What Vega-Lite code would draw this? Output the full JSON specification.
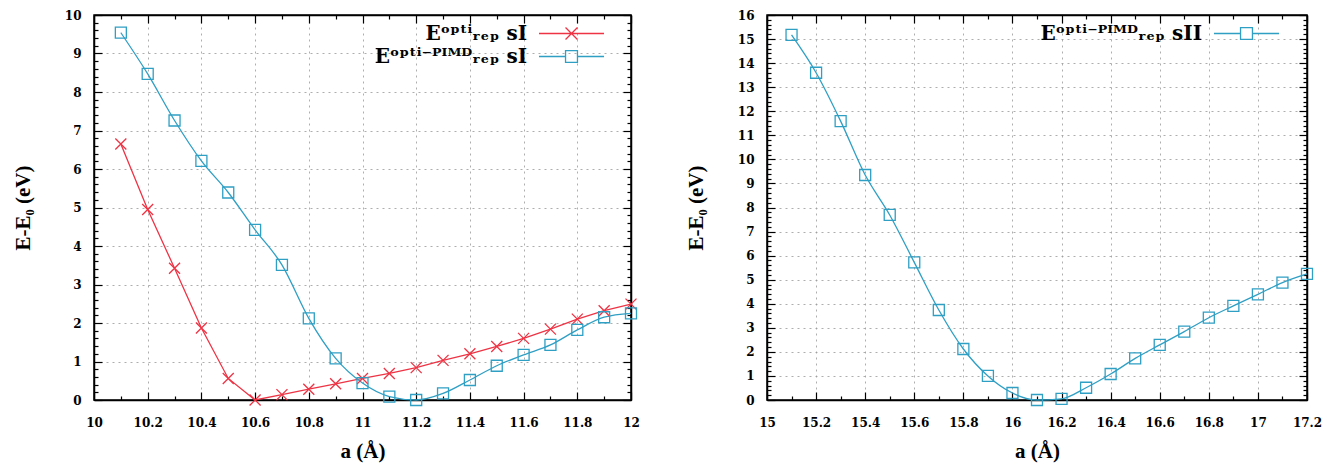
{
  "$schema": "https://vega.github.io/schema/vega-lite/v6.json",
  "background": "white",
  "padding": {"left": 11, "top": 8, "right": 5, "bottom": 5},
  "config": {
    "view": {"stroke": "black", "strokeWidth": 1.5},
    "axis": {
      "labelFont": "DejaVu Serif", "labelFontWeight": "bold", "labelFontSize": 12, "labelColor": "black",
      "titleFont": "Liberation Serif", "titleFontWeight": "bold", "titleFontSize": 21, "titleColor": "black",
      "domainColor": "black", "domainWidth": 1.5, "tickColor": "black", "tickWidth": 1.2,
      "gridColor": "#999999", "gridDash": [2, 4], "gridWidth": 0.8,
      "labelOverlap": false, "labelFlush": false, "format": "~g"
    }
  },
  "datasets": {
    "sI": [
      {"series": "opti", "a": 10.1, "E": 6.65}, {"series": "opti", "a": 10.2, "E": 4.95}, {"series": "opti", "a": 10.3, "E": 3.42},
      {"series": "opti", "a": 10.4, "E": 1.87}, {"series": "opti", "a": 10.5, "E": 0.56}, {"series": "opti", "a": 10.6, "E": 0.0},
      {"series": "opti", "a": 10.7, "E": 0.14}, {"series": "opti", "a": 10.8, "E": 0.28}, {"series": "opti", "a": 10.9, "E": 0.42},
      {"series": "opti", "a": 11.0, "E": 0.56}, {"series": "opti", "a": 11.1, "E": 0.69}, {"series": "opti", "a": 11.2, "E": 0.84},
      {"series": "opti", "a": 11.3, "E": 1.03}, {"series": "opti", "a": 11.4, "E": 1.2}, {"series": "opti", "a": 11.5, "E": 1.39},
      {"series": "opti", "a": 11.6, "E": 1.6}, {"series": "opti", "a": 11.7, "E": 1.84}, {"series": "opti", "a": 11.8, "E": 2.1},
      {"series": "opti", "a": 11.9, "E": 2.32}, {"series": "opti", "a": 12.0, "E": 2.49},
      {"series": "pimd", "a": 10.1, "E": 9.54}, {"series": "pimd", "a": 10.2, "E": 8.47}, {"series": "pimd", "a": 10.3, "E": 7.26},
      {"series": "pimd", "a": 10.4, "E": 6.21}, {"series": "pimd", "a": 10.5, "E": 5.39}, {"series": "pimd", "a": 10.6, "E": 4.42},
      {"series": "pimd", "a": 10.7, "E": 3.51}, {"series": "pimd", "a": 10.8, "E": 2.12}, {"series": "pimd", "a": 10.9, "E": 1.08},
      {"series": "pimd", "a": 11.0, "E": 0.44}, {"series": "pimd", "a": 11.1, "E": 0.09}, {"series": "pimd", "a": 11.2, "E": 0.0},
      {"series": "pimd", "a": 11.3, "E": 0.17}, {"series": "pimd", "a": 11.4, "E": 0.52}, {"series": "pimd", "a": 11.5, "E": 0.89},
      {"series": "pimd", "a": 11.6, "E": 1.17}, {"series": "pimd", "a": 11.7, "E": 1.43}, {"series": "pimd", "a": 11.8, "E": 1.82},
      {"series": "pimd", "a": 11.9, "E": 2.15}, {"series": "pimd", "a": 12.0, "E": 2.25}
    ],
    "sII": [
      {"series": "pimdII", "a": 15.1, "E": 15.17}, {"series": "pimdII", "a": 15.2, "E": 13.6}, {"series": "pimdII", "a": 15.3, "E": 11.59},
      {"series": "pimdII", "a": 15.4, "E": 9.35}, {"series": "pimdII", "a": 15.5, "E": 7.69}, {"series": "pimdII", "a": 15.6, "E": 5.72},
      {"series": "pimdII", "a": 15.7, "E": 3.74}, {"series": "pimdII", "a": 15.8, "E": 2.12}, {"series": "pimdII", "a": 15.9, "E": 1.0},
      {"series": "pimdII", "a": 16.0, "E": 0.29}, {"series": "pimdII", "a": 16.1, "E": 0.0}, {"series": "pimdII", "a": 16.2, "E": 0.05},
      {"series": "pimdII", "a": 16.3, "E": 0.51}, {"series": "pimdII", "a": 16.4, "E": 1.08}, {"series": "pimdII", "a": 16.5, "E": 1.73},
      {"series": "pimdII", "a": 16.6, "E": 2.29}, {"series": "pimdII", "a": 16.7, "E": 2.84}, {"series": "pimdII", "a": 16.8, "E": 3.42},
      {"series": "pimdII", "a": 16.9, "E": 3.91}, {"series": "pimdII", "a": 17.0, "E": 4.39}, {"series": "pimdII", "a": 17.1, "E": 4.88},
      {"series": "pimdII", "a": 17.2, "E": 5.24}
    ]
  },
  "spacing": 43,
  "resolve": {"scale": {"x": "independent", "y": "independent", "color": "independent"}, "legend": {"color": "independent"}},
  "hconcat": [
    {
      "width": 537, "height": 385,
      "data": {"name": "sI"},
      "resolve": {"axis": {"x": "independent", "y": "independent"}},
      "layer": [
        {
          "transform": [{"filter": "datum.series === 'opti'"}],
          "mark": {"type": "line", "strokeWidth": 1.3},
          "encoding": {
            "x": {"field": "a", "type": "quantitative", "scale": {"domain": [10, 12], "nice": false, "zero": false},
              "axis": {"orient": "bottom", "title": "a (Å)", "titlePadding": 8, "labelPadding": 25,
                "values": [10, 10.1, 10.2, 10.3, 10.4, 10.5, 10.6, 10.7, 10.8, 10.9, 11, 11.1, 11.2, 11.3, 11.4, 11.5, 11.6, 11.7, 11.8, 11.9, 12],
                "labelExpr": "abs(datum.value*5-round(datum.value*5))<0.001 ? datum.label : ''",
                "tickSize": {"condition": {"test": "abs(datum.value*5-round(datum.value*5))<0.001", "value": -8}, "value": -4},
                "grid": true,
                "gridOpacity": {"condition": {"test": "abs(datum.value*5-round(datum.value*5))<0.001 && datum.value > 10.01 && datum.value < 11.99", "value": 1}, "value": 0}}},
            "y": {"field": "E", "type": "quantitative", "scale": {"domain": [0, 10], "nice": false},
              "axis": {"orient": "left", "title": "E-E₀ (eV)", "titlePadding": 31, "labelPadding": 21,
                "values": [0, 0.2, 0.4, 0.6, 0.8, 1, 1.2, 1.4, 1.6, 1.8, 2, 2.2, 2.4, 2.6, 2.8, 3, 3.2, 3.4, 3.6, 3.8, 4, 4.2, 4.4, 4.6, 4.8, 5, 5.2, 5.4, 5.6, 5.8, 6, 6.2, 6.4, 6.6, 6.8, 7, 7.2, 7.4, 7.6, 7.8, 8, 8.2, 8.4, 8.6, 8.8, 9, 9.2, 9.4, 9.6, 9.8, 10],
                "labelExpr": "abs(datum.value-round(datum.value))<0.001 ? datum.label : ''",
                "tickSize": {"condition": {"test": "abs(datum.value-round(datum.value))<0.001", "value": -8}, "value": -4},
                "grid": true,
                "gridOpacity": {"condition": {"test": "abs(datum.value-round(datum.value))<0.001 && datum.value > 0.01 && datum.value < 9.99", "value": 1}, "value": 0}}},
            "color": {"field": "series", "type": "nominal",
              "scale": {"domain": ["opti", "pimd"], "range": ["#ee3344", "#2f9fc4"]},
              "legend": {
                "orient": "none", "legendX": 466, "legendY": 7, "title": null, "padding": 0,
                "labelExpr": "datum.value === 'opti' ? 'Eᵒᵖᵗⁱᵣₑₚ sI' : 'Eᵒᵖᵗⁱ⁻ᴾᴵᴹᴰᵣₑₚ sI'",
                "labelFont": "DejaVu Serif", "labelFontWeight": "bold", "labelFontSize": 20, "labelColor": "black",
                "labelAlign": "right", "labelOffset": -56, "labelLimit": 0,
                "symbolSize": 470, "symbolStrokeWidth": 1.3, "symbolFillColor": "transparent", "rowPadding": 1,
                "encode": {"symbols": {"update": {
                  "shape": {"signal": "datum.value === 'opti' ? 'M-3,0H3M-0.55,-0.55L0.55,0.55M-0.55,0.55L0.55,-0.55' : 'M-3,0H-0.55M0.55,0H3M-0.55,-0.55H0.55V0.55H-0.55Z'"},
                  "fill": {"value": "transparent"}}}}
              }}
          }
        },
        {
          "transform": [{"filter": "datum.series === 'pimd'"}],
          "mark": {"type": "line", "strokeWidth": 1.3, "interpolate": "monotone"},
          "encoding": {
            "x": {"field": "a", "type": "quantitative", "axis": null},
            "y": {"field": "E", "type": "quantitative", "axis": null},
            "color": {"field": "series", "type": "nominal", "legend": null}
          }
        },
        {
          "transform": [{"filter": "datum.series === 'opti'"}],
          "mark": {"type": "point", "filled": false, "strokeWidth": 1.3, "size": 121, "opacity": 1, "shape": "M-1,-1L1,1M-1,1L1,-1"},
          "encoding": {
            "x": {"field": "a", "type": "quantitative",
              "axis": {"orient": "top", "title": null, "labels": false, "grid": false,
                "values": [10, 10.1, 10.2, 10.3, 10.4, 10.5, 10.6, 10.7, 10.8, 10.9, 11, 11.1, 11.2, 11.3, 11.4, 11.5, 11.6, 11.7, 11.8, 11.9, 12],
                "tickSize": {"condition": {"test": "abs(datum.value*5-round(datum.value*5))<0.001", "value": -8}, "value": -4}}},
            "y": {"field": "E", "type": "quantitative",
              "axis": {"orient": "right", "title": null, "labels": false, "grid": false,
                "values": [0, 0.2, 0.4, 0.6, 0.8, 1, 1.2, 1.4, 1.6, 1.8, 2, 2.2, 2.4, 2.6, 2.8, 3, 3.2, 3.4, 3.6, 3.8, 4, 4.2, 4.4, 4.6, 4.8, 5, 5.2, 5.4, 5.6, 5.8, 6, 6.2, 6.4, 6.6, 6.8, 7, 7.2, 7.4, 7.6, 7.8, 8, 8.2, 8.4, 8.6, 8.8, 9, 9.2, 9.4, 9.6, 9.8, 10],
                "tickSize": {"condition": {"test": "abs(datum.value-round(datum.value))<0.001", "value": -8}, "value": -4}}},
            "color": {"field": "series", "type": "nominal", "legend": null}
          }
        },
        {
          "transform": [{"filter": "datum.series === 'pimd'"}],
          "mark": {"type": "point", "filled": false, "strokeWidth": 1.3, "size": 121, "opacity": 1, "shape": "square"},
          "encoding": {
            "x": {"field": "a", "type": "quantitative", "axis": null},
            "y": {"field": "E", "type": "quantitative", "axis": null},
            "color": {"field": "series", "type": "nominal", "legend": null}
          }
        }
      ]
    },
    {
      "width": 540, "height": 385,
      "data": {"name": "sII"},
      "resolve": {"axis": {"x": "independent", "y": "independent"}},
      "layer": [
        {
          "mark": {"type": "line", "strokeWidth": 1.3, "interpolate": "monotone"},
          "encoding": {
            "x": {"field": "a", "type": "quantitative", "scale": {"domain": [15, 17.2], "nice": false, "zero": false},
              "axis": {"orient": "bottom", "title": "a (Å)", "titlePadding": 8, "labelPadding": 25,
                "values": [15, 15.1, 15.2, 15.3, 15.4, 15.5, 15.6, 15.7, 15.8, 15.9, 16, 16.1, 16.2, 16.3, 16.4, 16.5, 16.6, 16.7, 16.8, 16.9, 17, 17.1, 17.2],
                "labelExpr": "abs(datum.value*5-round(datum.value*5))<0.001 ? datum.label : ''",
                "tickSize": {"condition": {"test": "abs(datum.value*5-round(datum.value*5))<0.001", "value": -8}, "value": -4},
                "grid": true,
                "gridOpacity": {"condition": {"test": "abs(datum.value*5-round(datum.value*5))<0.001 && datum.value > 15.01 && datum.value < 17.19", "value": 1}, "value": 0}}},
            "y": {"field": "E", "type": "quantitative", "scale": {"domain": [0, 16], "nice": false},
              "axis": {"orient": "left", "title": "E-E₀ (eV)", "titlePadding": 31, "labelPadding": 21,
                "values": [0, 0.2, 0.4, 0.6, 0.8, 1, 1.2, 1.4, 1.6, 1.8, 2, 2.2, 2.4, 2.6, 2.8, 3, 3.2, 3.4, 3.6, 3.8, 4, 4.2, 4.4, 4.6, 4.8, 5, 5.2, 5.4, 5.6, 5.8, 6, 6.2, 6.4, 6.6, 6.8, 7, 7.2, 7.4, 7.6, 7.8, 8, 8.2, 8.4, 8.6, 8.8, 9, 9.2, 9.4, 9.6, 9.8, 10, 10.2, 10.4, 10.6, 10.8, 11, 11.2, 11.4, 11.6, 11.8, 12, 12.2, 12.4, 12.6, 12.8, 13, 13.2, 13.4, 13.6, 13.8, 14, 14.2, 14.4, 14.6, 14.8, 15, 15.2, 15.4, 15.6, 15.8, 16],
                "labelExpr": "abs(datum.value-round(datum.value))<0.001 ? datum.label : ''",
                "tickSize": {"condition": {"test": "abs(datum.value-round(datum.value))<0.001", "value": -8}, "value": -4},
                "grid": true,
                "gridOpacity": {"condition": {"test": "abs(datum.value-round(datum.value))<0.001 && datum.value > 0.01 && datum.value < 15.99", "value": 1}, "value": 0}}},
            "color": {"field": "series", "type": "nominal",
              "scale": {"domain": ["pimdII"], "range": ["#2f9fc4"]},
              "legend": {
                "orient": "none", "legendX": 468, "legendY": 7, "title": null, "padding": 0,
                "labelExpr": "'Eᵒᵖᵗⁱ⁻ᴾᴵᴹᴰᵣₑₚ sII'",
                "labelFont": "DejaVu Serif", "labelFontWeight": "bold", "labelFontSize": 20, "labelColor": "black",
                "labelAlign": "right", "labelOffset": -56, "labelLimit": 0,
                "symbolSize": 470, "symbolStrokeWidth": 1.3, "symbolFillColor": "transparent",
                "encode": {"symbols": {"update": {
                  "shape": {"value": "M-3,0H-0.55M0.55,0H3M-0.55,-0.55H0.55V0.55H-0.55Z"},
                  "fill": {"value": "transparent"}}}}
              }}
          }
        },
        {
          "mark": {"type": "point", "filled": false, "strokeWidth": 1.3, "size": 121, "opacity": 1, "shape": "square"},
          "encoding": {
            "x": {"field": "a", "type": "quantitative",
              "axis": {"orient": "top", "title": null, "labels": false, "grid": false,
                "values": [15, 15.1, 15.2, 15.3, 15.4, 15.5, 15.6, 15.7, 15.8, 15.9, 16, 16.1, 16.2, 16.3, 16.4, 16.5, 16.6, 16.7, 16.8, 16.9, 17, 17.1, 17.2],
                "tickSize": {"condition": {"test": "abs(datum.value*5-round(datum.value*5))<0.001", "value": -8}, "value": -4}}},
            "y": {"field": "E", "type": "quantitative",
              "axis": {"orient": "right", "title": null, "labels": false, "grid": false,
                "values": [0, 0.2, 0.4, 0.6, 0.8, 1, 1.2, 1.4, 1.6, 1.8, 2, 2.2, 2.4, 2.6, 2.8, 3, 3.2, 3.4, 3.6, 3.8, 4, 4.2, 4.4, 4.6, 4.8, 5, 5.2, 5.4, 5.6, 5.8, 6, 6.2, 6.4, 6.6, 6.8, 7, 7.2, 7.4, 7.6, 7.8, 8, 8.2, 8.4, 8.6, 8.8, 9, 9.2, 9.4, 9.6, 9.8, 10, 10.2, 10.4, 10.6, 10.8, 11, 11.2, 11.4, 11.6, 11.8, 12, 12.2, 12.4, 12.6, 12.8, 13, 13.2, 13.4, 13.6, 13.8, 14, 14.2, 14.4, 14.6, 14.8, 15, 15.2, 15.4, 15.6, 15.8, 16],
                "tickSize": {"condition": {"test": "abs(datum.value-round(datum.value))<0.001", "value": -8}, "value": -4}}},
            "color": {"field": "series", "type": "nominal", "legend": null}
          }
        }
      ]
    }
  ]
}
